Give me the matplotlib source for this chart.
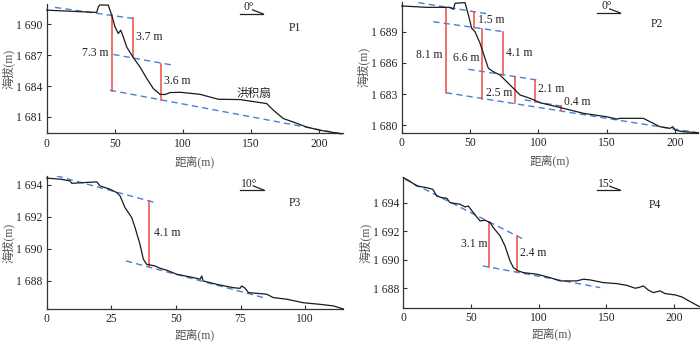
import matplotlib
matplotlib.use("Agg")
import matplotlib.pyplot as plt
from matplotlib.ticker import FuncFormatter

plt.rcParams['font.family'] = ['Liberation Serif', 'Noto Sans CJK SC', 'DejaVu Sans']

# ---------------- data ----------------
# P1 profile (distance m, elevation m)
p1_d = [0, 36.7, 37.9, 39, 45.2, 46.4, 47.7, 50.1, 52.5, 54.3, 56.2, 58.7, 63.5, 68.4, 73.4,
        78.2, 83.1, 86.8, 90.5, 97.8, 112.5, 125.9, 141.8, 161.4, 166.3, 173.6, 180.9,
        190.7, 200.5, 216.4]
p1_h = [1691.39, 1691.17, 1691.72, 1691.9, 1691.88, 1691.39, 1690.9, 1689.77, 1689.12,
        1689.44, 1688.79, 1687.8, 1686.78, 1685.87, 1684.74, 1683.76, 1683.2, 1683.18,
        1683.37, 1683.4, 1683.2, 1682.72, 1682.69, 1682.3, 1681.65, 1680.84, 1680.5,
        1680.02, 1679.7, 1679.35]
p1_lines = [((6.1, 1691.66), (63.5, 1690.58)),
            ((48.9, 1687.08), (92.9, 1686.03)),
            ((46.4, 1683.6), (216.4, 1679.35))]
p1_offsets = [(48.2, 1690.90, 1683.57), (63.5, 1690.58, 1686.85), (83.9, 1686.19, 1682.62)]
p1_labels = [("7.3 m", 46.0, 1687.2, 'right'), ("3.7 m", 64.9, 1688.8, 'left'),
             ("3.6 m", 85.6, 1684.5, 'left'), ("洪积扇", 152.0, 1683.25, 'center')]

# P2 profile
p2_d = [0, 18.3, 35.3, 37.8, 39, 46.3, 48.8, 51.2, 53.6, 57.3, 60.9, 63.4, 67, 71.9, 76.8,
        81.7, 86.6, 93.9, 101.2, 113.4, 132.9, 150, 157.3, 159.7, 176.8, 181.7, 189, 196.3,
        198.3, 200, 206, 217]
p2_h = [1691.47, 1691.34, 1691.34, 1691.15, 1691.73, 1691.79, 1690.6, 1689.33, 1689.0,
        1687.89, 1686.45, 1685.48, 1685.16, 1684.84, 1684.2, 1683.56, 1682.92, 1682.6,
        1682.18, 1681.8, 1681.16, 1680.83, 1680.61, 1680.68, 1680.68, 1680.35, 1679.87,
        1679.72, 1679.87, 1679.55, 1679.39, 1679.3]
p2_lines = [((12.2, 1691.79), (63.4, 1690.70)),
            ((23.1, 1689.96), (74.4, 1689.00)),
            ((48.8, 1685.39), (98.8, 1684.36)),
            ((32.4, 1683.14), (217.0, 1679.28)),
            ((90.0, 1682.45), (120.0, 1681.78))]
p2_offsets = [(32.4, 1691.25, 1683.14), (53.1, 1690.92, 1689.40), (59.0, 1689.29, 1682.58),
              (73.9, 1689.01, 1684.88), (82.9, 1684.68, 1682.12), (97.6, 1684.38, 1682.28),
              (116.3, 1681.86, 1681.48)]
p2_labels = [("8.1 m", 30.5, 1686.76, 'right'), ("1.5 m", 54.9, 1690.12, 'left'),
             ("6.6 m", 58.0, 1686.44, 'right'), ("4.1 m", 75.8, 1686.92, 'left'),
             ("2.5 m", 81.7, 1683.08, 'right'), ("2.1 m", 98.8, 1683.47, 'left'),
             ("0.4 m", 117.8, 1682.28, 'left')]

# P3 profile
p3_d = [0, 5.2, 9, 9.7, 14.2, 19.4, 20.6, 24.5, 27.1, 28.4, 30.3, 32.9, 34.2, 36.1, 37.4,
        38.7, 41.9, 43.9, 46.5, 50.3, 56.8, 59.4, 60, 60.6, 65.8, 72.2, 74.8, 75.5, 76.8,
        78.1, 82.6, 85.2, 87.7, 92.9, 99.3, 105.8, 111, 114.8]
p3_h = [1694.42, 1694.36, 1694.25, 1694.1, 1694.14, 1694.19, 1693.94, 1693.73, 1693.52,
        1693.31, 1692.58, 1691.96, 1691.33, 1690.29, 1689.36, 1689.04, 1688.94, 1688.79,
        1688.67, 1688.42, 1688.21, 1688.11, 1688.31, 1688.0, 1687.79, 1687.58, 1687.54,
        1687.69, 1687.54, 1687.27, 1687.21, 1687.17, 1686.96, 1686.86, 1686.64, 1686.54,
        1686.44, 1686.25]
p3_lines = [((3.9, 1694.56), (41.9, 1692.90)),
            ((30.7, 1689.25), (83.9, 1686.96))]
p3_offsets = [(39.7, 1692.99, 1688.86)]
p3_labels = [("4.1 m", 40.6, 1691.02, 'left')]

# P4 profile
p4_d = [0, 3.7, 9.9, 17.3, 21.7, 24.7, 28.4, 32.1, 34.5, 41.9, 45.6, 48, 51.7, 56.7, 60.4,
        64.1, 66.5, 71.5, 75.1, 78.8, 81.3, 85, 88.7, 98.6, 108.4, 115.8, 123.2, 128.1, 133,
        137.9, 147.8, 157.7, 165, 171.2, 173.7, 177.3, 181.1, 184.7, 189.7, 193.4, 200.8,
        205.7, 211.9, 218.7]
p4_h = [1695.75, 1695.57, 1695.17, 1695.05, 1694.94, 1694.47, 1694.35, 1694.31, 1694.0,
        1693.89, 1693.7, 1693.77, 1693.3, 1692.72, 1692.77, 1692.6, 1692.25, 1691.67,
        1690.97, 1689.92, 1689.45, 1689.22, 1689.1, 1688.99, 1688.75, 1688.52, 1688.52,
        1688.52, 1688.64, 1688.59, 1688.4, 1688.33, 1688.21, 1688.01, 1688.05, 1688.17,
        1687.87, 1687.7, 1687.82, 1687.63, 1687.54, 1687.4, 1687.07, 1686.72]
p4_lines = [((1.2, 1695.64), (88.7, 1691.44)),
            ((58.7, 1689.57), (145.4, 1688.05))]
p4_offsets = [(63.6, 1692.64, 1689.48), (84.3, 1691.65, 1689.13)]
p4_labels = [("3.1 m", 62.8, 1691.09, 'right'), ("2.4 m", 85.7, 1690.5, 'left')]

names = ["P1", "P2", "P3", "P4"]
angles = ["0°", "0°", "10°", "15°"]
xticks = [[0, 50, 100, 150, 200], [0, 50, 100, 150, 200], [0, 25, 50, 75, 100], [0, 50, 100, 150, 200]]
yticks = [[1681, 1684, 1687, 1690], [1680, 1683, 1686, 1689], [1688, 1690, 1692, 1694], [1688, 1690, 1692, 1694]]
xlims = [(0, 217.6), (0, 217), (0, 114.8), (0, 218.7)]
ylims = [(1679.4, 1691.98), (1679.3, 1691.88), (1686.23, 1694.56), (1686.6, 1695.8)]

# ---------------- layout ----------------
positions = [[0.0667, 0.610, 0.4238, 0.378],
             [0.5739, 0.612, 0.4237, 0.383],
             [0.0667, 0.0956, 0.4238, 0.390],
             [0.5762, 0.0985, 0.4229, 0.384]]
name_pos = [(0.837, 0.818), (0.86, 0.83), (0.837, 0.80), (0.85, 0.79)]
comp_pos = [(0.652, 0.729, 0.925), (0.66, 0.736, 0.915), (0.652, 0.731, 0.895), (0.653, 0.732, 0.90)]
xlabel_pad = [4, 4, 2, 2]

BLUE = "#4a7fd6"
RED = "#ee4b43"
FS = 8.4

fig = plt.figure(figsize=(7.0, 3.42), dpi=100)

profiles = [(p1_d, p1_h), (p2_d, p2_h), (p3_d, p3_h), (p4_d, p4_h)]
lines_all = [p1_lines, p2_lines, p3_lines, p4_lines]
offs_all = [p1_offsets, p2_offsets, p3_offsets, p4_offsets]
labels_all = [p1_labels, p2_labels, p3_labels, p4_labels]

fmt = FuncFormatter(lambda v, p: f"{int(round(v)) // 1000} {int(round(v)) % 1000:03d}")

for i in range(4):
    ax = fig.add_axes(positions[i])
    d, h = profiles[i]
    for (a, b) in lines_all[i]:
        ax.plot([a[0], b[0]], [a[1], b[1]], color=BLUE, lw=1.0, ls=(0, (4.5, 3)), zorder=2)
    for (x, y0, y1) in offs_all[i]:
        ax.plot([x, x], [y0, y1], color=RED, lw=1.1, zorder=3)
    ax.plot(d, h, color="#1a1a1a", lw=0.9, zorder=4, clip_on=False)
    for (t, x, y, ha) in labels_all[i]:
        ax.text(x + (0.8 if ha == 'left' else -0.8 if ha == 'right' else 0), y, t,
                ha=ha, va='center', fontsize=FS, color="#222222", zorder=5)
    ax.set_xlim(*xlims[i])
    ax.set_ylim(*ylims[i])
    ax.set_xticks(xticks[i])
    ax.set_yticks(yticks[i])
    ax.yaxis.set_major_formatter(fmt)
    for s in ['top', 'right']:
        ax.spines[s].set_visible(False)
    for s in ['left', 'bottom']:
        ax.spines[s].set_color("#333333")
        ax.spines[s].set_linewidth(0.9)
    ax.tick_params(direction='in', length=3, width=0.8, color="#333333",
                   labelsize=FS, labelcolor="#222222", pad=3)
    ax.set_xlabel("距离(m)", fontsize=8.5, color="#555555", labelpad=xlabel_pad[i])
    ax.set_ylabel("海拔(m)", fontsize=8.5, color="#555555", labelpad=1)
    ax.text(name_pos[i][0], name_pos[i][1], names[i], transform=ax.transAxes,
            ha='center', va='center', fontsize=FS, color="#222222")
    x0, x1, yc = comp_pos[i]
    ax.plot([x0, x1], [yc, yc], color="#222222", lw=0.9, transform=ax.transAxes, clip_on=False)
    ax.plot([x1 - 0.035, x1], [yc + 0.03, yc], color="#222222", lw=0.9,
            transform=ax.transAxes, clip_on=False)
    ax.text((x0 + x1) / 2 - 0.008, yc + 0.003, angles[i], transform=ax.transAxes,
            ha='center', va='bottom', fontsize=FS, color="#222222")

fig.savefig("out.png", dpi=100)
